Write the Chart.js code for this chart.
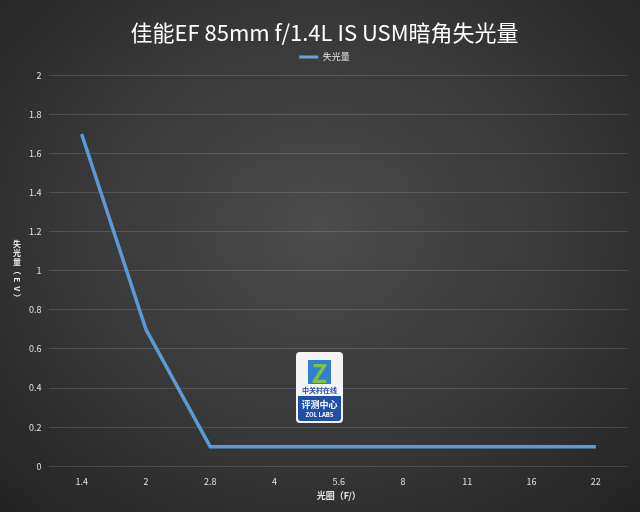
<!DOCTYPE html>
<html>
<head>
<meta charset="utf-8">
<script src="https://cdn.jsdelivr.net/npm/chart.js@4.4.0/dist/chart.umd.min.js"></script>
<style>
    html, body { margin: 0; padding: 0; }
    body {
        width: 640px; height: 512px; overflow: hidden;
        background: radial-gradient(ellipse 70% 75% at 50% 45%, #4c4c4c 0%, #3a3a3a 50%, #242424 100%);
    }
    #wrap { position: relative; width: 640px; height: 512px; }
</style>
</head>
<body>
<div id="wrap"><canvas id="chart" width="640" height="512"></canvas></div>
<script>
const apertures = ['1.4', '2', '2.8', '4', '5.6', '8', '11', '16', '22'];
const lightLoss = [1.7, 0.7, 0.1, 0.1, 0.1, 0.1, 0.1, 0.1, 0.1];
const chartTitle = '佳能EF 85mm f/1.4L IS USM暗角失光量';
const seriesName = '失光量';
const yTitle = '失光量（EV）';
const xTitle = '光圈（F/）';

const FONT = '"Noto Sans CJK SC", "Noto Sans", sans-serif';

// a little extra room under the legend
const legendGapPlugin = {
    id: 'legendGap',
    beforeInit(chart) {
        const fit = chart.legend.fit;
        chart.legend.fit = function () {
            fit.bind(chart.legend)();
            this.height += 4;
        };
    }
};

// vertical y-axis title, characters stacked upright
const yTitlePlugin = {
    id: 'yTitle',
    afterDraw(chart) {
        const ctx = chart.ctx;
        const area = chart.chartArea;
        const cx = 17;
        const chars = Array.from(yTitle);
        const step = 9;
        let y = (area.top + area.bottom) / 2 - (chars.length * step) / 2;
        ctx.save();
        ctx.fillStyle = '#e6e6e6';
        ctx.font = 'bold 8px ' + FONT;
        ctx.textAlign = 'center';
        ctx.textBaseline = 'middle';
        chars.forEach(ch => {
            if (/[（）EV]/.test(ch)) {
                ctx.save();
                ctx.translate(cx, y + step / 2);
                ctx.rotate(Math.PI / 2);
                ctx.fillText(ch, 0, 0);
                ctx.restore();
            } else {
                ctx.fillText(ch, cx, y + step / 2);
            }
            y += step;
        });
        ctx.restore();
    }
};

// ZOL LABS badge in the middle of the plot
const badgePlugin = {
    id: 'badge',
    afterDraw(chart) {
        const ctx = chart.ctx;
        const x = 296, y = 352, w = 47, h = 71, r = 4;
        ctx.save();
        ctx.beginPath();
        ctx.roundRect(x, y, w, h, r);
        ctx.fillStyle = '#f4f4f4';
        ctx.fill();
        ctx.beginPath();
        ctx.roundRect(x + 2, y + 44, w - 4, h - 46, [0, 0, 3, 3]);
        ctx.fillStyle = '#1f4fa8';
        ctx.fill();
        // Z mark
        ctx.fillStyle = '#2e7fd0';
        ctx.fillRect(x + 12, y + 8, 23, 24);
        ctx.fillStyle = '#7dc242';
        ctx.font = 'bold 26px ' + FONT;
        ctx.textAlign = 'center';
        ctx.textBaseline = 'middle';
        ctx.fillText('Z', x + w / 2, y + 21);
        ctx.fillStyle = '#1f4fa8';
        ctx.font = 'bold 7px ' + FONT;
        ctx.fillText('中关村在线', x + w / 2, y + 38);
        ctx.fillStyle = '#ffffff';
        ctx.font = 'bold 9px ' + FONT;
        ctx.fillText('评测中心', x + w / 2, y + 53);
        ctx.font = 'bold 6px ' + FONT;
        ctx.fillText('ZOL LABS', x + w / 2, y + 63);
        ctx.restore();
    }
};

new Chart(document.getElementById('chart').getContext('2d'), {
    type: 'line',
    data: {
        labels: apertures,
        datasets: [{
            label: seriesName,
            data: lightLoss,
            borderColor: '#5b9bd5',
            backgroundColor: '#6a9fd8',
            borderWidth: 3.5,
            tension: 0,
            fill: false,
            pointRadius: 0
        }]
    },
    options: {
        responsive: false,
        animation: false,
        layout: { padding: { left: 21, right: 12, top: 4, bottom: 12 } },
        plugins: {
            title: {
                display: true,
                text: chartTitle,
                color: '#ffffff',
                font: { family: FONT, size: 22, weight: 'normal' },
                padding: { top: 15, bottom: 0 }
            },
            legend: {
                display: true,
                labels: {
                    color: '#e6e6e6',
                    font: { family: FONT, size: 9 },
                    boxWidth: 19,
                    boxHeight: 3,
                    padding: 7,
                    generateLabels: chart => [{
                        text: seriesName,
                        fillStyle: '#6a9fd8',
                        strokeStyle: '#6a9fd8',
                        lineWidth: 0,
                        fontColor: '#e6e6e6',
                        datasetIndex: 0
                    }]
                }
            },
            tooltip: { enabled: false }
        },
        scales: {
            x: {
                offset: true,
                grid: { display: false },
                border: { display: false },
                ticks: { color: '#e0e0e0', font: { family: FONT, size: 9 }, padding: 2 },
                title: {
                    display: true,
                    text: xTitle,
                    color: '#e6e6e6',
                    font: { family: FONT, size: 9, weight: 'bold', lineHeight: 1 },
                    padding: { top: 2, bottom: 0 }
                }
            },
            y: {
                min: 0,
                max: 2,
                ticks: {
                    stepSize: 0.2,
                    color: '#e0e0e0',
                    font: { family: FONT, size: 9 },
                    padding: 8,
                    callback: v => String(Math.round(v * 10) / 10)
                },
                grid: { color: 'rgba(255,255,255,0.13)', drawTicks: false },
                border: { display: false }
            }
        }
    },
    plugins: [legendGapPlugin, yTitlePlugin, badgePlugin]
});
</script>
</body>
</html>
